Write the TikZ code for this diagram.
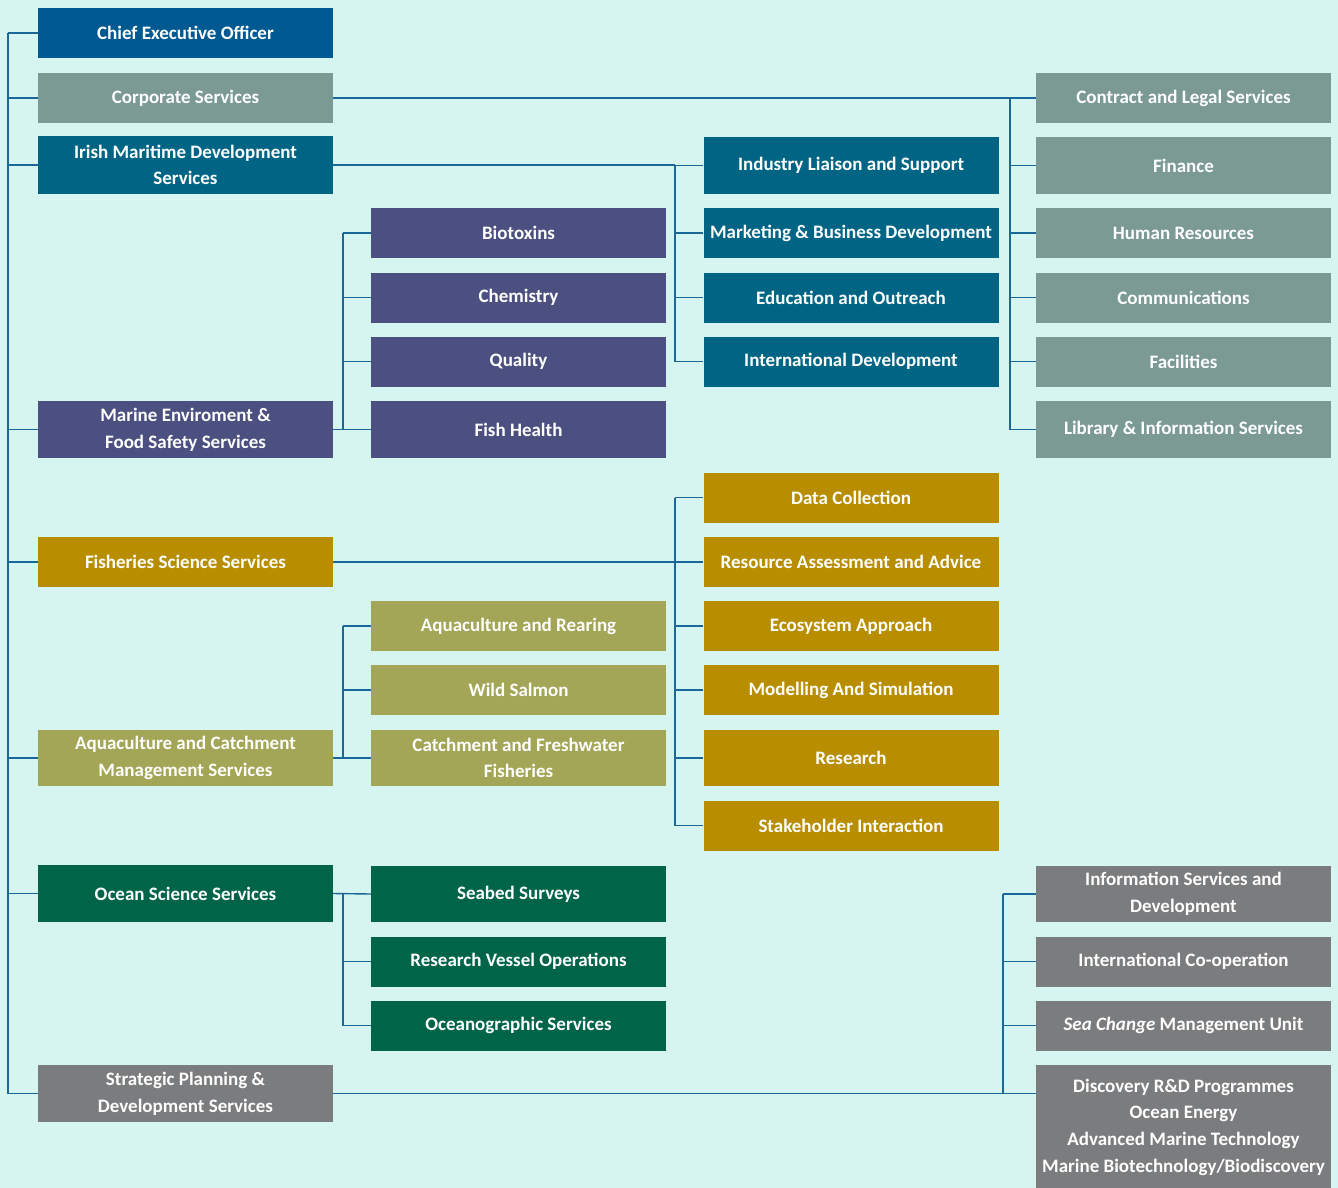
\documentclass[tikz,border=0pt]{standalone}
\usepackage{fontspec}
\setmainfont{Carlito}
\definecolor{bgmint}{RGB}{215,245,240}
\definecolor{linkblue}{RGB}{26,104,152}
\definecolor{ceoblue}{RGB}{0,90,145}
\definecolor{corpgrey}{RGB}{123,154,147}
\definecolor{imdteal}{RGB}{0,101,133}
\definecolor{mefspurple}{RGB}{76,80,128}
\definecolor{fssgold}{RGB}{184,142,0}
\definecolor{acmsolive}{RGB}{163,165,87}
\definecolor{ossgreen}{RGB}{0,101,72}
\definecolor{spdsgrey}{RGB}{123,124,126}
\begin{document}
\begin{tikzpicture}[x=1pt,y=-1pt,
    unit/.style={rectangle,minimum width=295pt,minimum height=50pt,inner sep=0pt,
        text=white,align=center,font=\bfseries\fontsize{19}{26.7}\selectfont},
    tall/.style={minimum height=57pt},
    ceo/.style={unit,fill=ceoblue},
    corp/.style={unit,fill=corpgrey},
    imd/.style={unit,fill=imdteal},
    mefs/.style={unit,fill=mefspurple},
    fss/.style={unit,fill=fssgold},
    acms/.style={unit,fill=acmsolive},
    oss/.style={unit,fill=ossgreen},
    spds/.style={unit,fill=spdsgrey},
    link/.style={draw=linkblue,line width=1.4pt}]

    \fill[bgmint] (0,0) rectangle (1338,1188);
    \useasboundingbox (0,0) rectangle (1338,1188);

    % spines
    \coordinate (sA) at (8,0);
    \coordinate (sB) at (343,0);
    \coordinate (sC) at (675,0);
    \coordinate (sD) at (1010,0);
    \coordinate (sE) at (1003,0);

    % first column
    \node[ceo] (ceo) at (185.5,33) {Chief Executive Officer};
    \node[corp] (corp) at (185.5,98) {Corporate Services};
    \node[imd,tall] (imd) at (185.5,165) {Irish Maritime Development\\Services};
    \node[mefs,tall] (mefs) at (185.5,429.5) {Marine Enviroment \&\\Food Safety Services};
    \node[fss] (fss) at (185.5,562) {Fisheries Science Services};
    \node[acms,minimum height=56pt] (acms) at (185.5,758) {Aquaculture and Catchment\\Management Services};
    \node[oss,tall] (oss) at (185.5,893.5) {Ocean Science Services};
    \node[spds,tall] (spds) at (185.5,1093.5) {Strategic Planning \&\\Development Services};

    % second column
    \node[mefs] (bio) at (518.5,233) {Biotoxins};
    \node[mefs] (chem) at (518.5,297.5) {Chemistry};
    \node[mefs] (qual) at (518.5,361.5) {Quality};
    \node[mefs,tall] (fish) at (518.5,429.5) {Fish Health};
    \node[acms] (rear) at (518.5,626) {Aquaculture and Rearing};
    \node[acms] (salm) at (518.5,690) {Wild Salmon};
    \node[acms,minimum height=56pt] (catch) at (518.5,758) {Catchment and Freshwater\\Fisheries};
    \node[oss,minimum height=56pt] (seab) at (518.5,894) {Seabed Surveys};
    \node[oss] (rvo) at (518.5,961.5) {Research Vessel Operations};
    \node[oss] (ocean) at (518.5,1025.5) {Oceanographic Services};

    % third column
    \node[imd,tall] (ind) at (851,165.5) {Industry Liaison and Support};
    \node[imd] (mkt) at (851,233) {Marketing \& Business Development};
    \node[imd] (edu) at (851,297.5) {Education and Outreach};
    \node[imd] (intd) at (851,361.5) {International Development};
    \node[fss] (data) at (851,497.5) {Data Collection};
    \node[fss] (res) at (851,562) {Resource Assessment and Advice};
    \node[fss] (eco) at (851,626) {Ecosystem Approach};
    \node[fss] (mod) at (851,690) {Modelling And Simulation};
    \node[fss,minimum height=56pt] (rsch) at (851,758) {Research};
    \node[fss] (stake) at (851,825.5) {Stakeholder Interaction};

    % fourth column
    \node[corp] (cls) at (1183.5,98) {Contract and Legal Services};
    \node[corp,tall] (fin) at (1183.5,165.5) {Finance};
    \node[corp] (hr) at (1183.5,233) {Human Resources};
    \node[corp] (comm) at (1183.5,297.5) {Communications};
    \node[corp] (fac) at (1183.5,361.5) {Facilities};
    \node[corp,tall] (lib) at (1183.5,429.5) {Library \& Information Services};
    \node[spds,minimum height=56pt] (isd) at (1183.5,894) {Information Services and\\Development};
    \node[spds] (ico) at (1183.5,961.5) {International Co-operation};
    \node[spds] (sea) at (1183.5,1025.5) {\textit{Sea Change} Management Unit};
    \node[spds,minimum height=124pt] (disc) at (1183.5,1127) {Discovery R\&D Programmes\\Ocean Energy\\Advanced Marine Technology\\Marine Biotechnology/Biodiscovery};

    % connectors
    \foreach \n in {ceo,corp,imd,mefs,fss,acms,oss,spds}
        \draw[link] (\n.west) -- (\n.west -| sA);
    \draw[link] (sA |- ceo.west) -- (sA |- spds.west);

    \draw[link] (corp.east) -- (corp.east -| sD);
    \foreach \n in {cls,fin,hr,comm,fac,lib}
        \draw[link] (\n.west) -- (\n.west -| sD);
    \draw[link] (sD |- cls.west) -- (sD |- lib.west);

    \draw[link] (imd.east) -- (imd.east -| sC);
    \foreach \n in {ind,mkt,edu,intd}
        \draw[link] (\n.west) -- (\n.west -| sC);
    \draw[link] (sC |- ind.west) -- (sC |- intd.west);

    \draw[link] (mefs.east) -- (fish.west);
    \foreach \n in {bio,chem,qual}
        \draw[link] (\n.west) -- (\n.west -| sB);
    \draw[link] (sB |- bio.west) -- (sB |- fish.west);

    \draw[link] (fss.east) -- (res.west);
    \foreach \n in {data,eco,mod,rsch,stake}
        \draw[link] (\n.west) -- (\n.west -| sC);
    \draw[link] (sC |- data.west) -- (sC |- stake.west);

    \draw[link] (acms.east) -- (catch.west);
    \foreach \n in {rear,salm}
        \draw[link] (\n.west) -- (\n.west -| sB);
    \draw[link] (sB |- rear.west) -- (sB |- catch.west);

    \draw[link] (oss.east) -- (seab.west);
    \foreach \n in {rvo,ocean}
        \draw[link] (\n.west) -- (\n.west -| sB);
    \draw[link] (sB |- seab.west) -- (sB |- ocean.west);

    \draw[link] (spds.east) -- (spds.east -| disc.west);
    \foreach \n in {isd,ico,sea}
        \draw[link] (\n.west -| sE) -- (\n.west);
    \draw[link] (sE |- isd.west) -- (sE |- spds.east);
\end{tikzpicture}
\end{document}
